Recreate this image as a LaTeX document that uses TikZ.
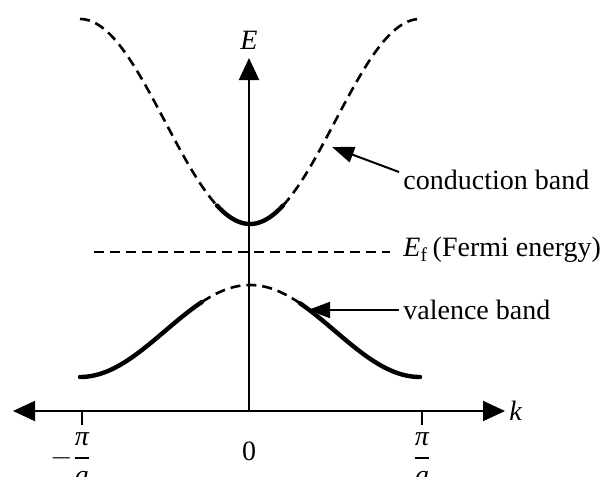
\documentclass[tikz,border=0pt]{standalone}
\usepackage{amsmath}
\usepackage{fontspec}
\setmainfont{Liberation Serif}
\usetikzlibrary{arrows.meta}

\begin{document}
\begin{tikzpicture}[x=0.5pt,y=-0.5pt,
  axis/.style={line width=1pt,draw=black},
  bigtip/.style={-{Triangle[length=11pt,width=10pt]}},
  band/.style={line width=2.2pt,line cap=round},
  gapband/.style={line width=1.3pt,dash pattern=on 5pt off 3pt},
  fermi/.style={line width=1pt,dash pattern=on 5pt off 3pt},
  lbl/.style={font=\fontsize{14}{16}\selectfont,inner sep=2pt},
  pointer/.style={line width=1pt,-{Triangle[length=11pt,width=8pt]}}]
  \useasboundingbox (0,0) rectangle (606,477);
  % axes
  \coordinate (origin) at (249,411);
  \coordinate (kback)  at ( 13,411);
  \coordinate (ktip)   at (505,411);
  \coordinate (etip)   at (249, 58);
  % conduction band: solid near the minimum, dashed further out
  \draw[gapband] plot[domain=-170:-33,samples=60] ({250+\x},{224-102.5*(1-cos(1.0588*\x))});
  \draw[gapband] plot[domain=33:170,samples=60] ({250+\x},{224-102.5*(1-cos(1.0588*\x))});
  \draw[band] plot[domain=-33:33,samples=30] ({250+\x},{224-102.5*(1-cos(1.0588*\x))});
  % valence band: dashed near the maximum, solid further out
  \draw[band] plot[domain=-170:-48,samples=60] ({250+\x},{285+46*(1-cos(1.0588*\x))});
  \draw[band] plot[domain=50:170,samples=60] ({250+\x},{285+46*(1-cos(1.0588*\x))});
  \draw[gapband] plot[domain=-48:50,samples=40] ({250+\x},{285+46*(1-cos(1.0588*\x))});
  % Fermi level
  \coordinate (fleft)  at ( 94,252);
  \coordinate (fright) at (390,252);
  \draw[fermi] (fleft) -- (fright);
  \draw[axis,{Triangle[length=11pt,width=10pt]}-{Triangle[length=11pt,width=10pt]}] (kback) -- (ktip);
  \draw[axis,bigtip] (origin) -- (etip);
  \foreach \t in {82,422}
    \draw[axis] (\t,411) -- (\t,425);
  \node[lbl,anchor=west] (klbl) at (ktip) {\textit{k}};
  \node[lbl] (elbl) at (249,40) {\textit{E}};
  \node[lbl] (mpi) at (82,459) {\llap{$-$}$\dfrac{\text{\itshape π}}{\text{\itshape a}}$};
  \node[lbl] (ppi) at (422,459) {$\dfrac{\text{\itshape π}}{\text{\itshape a}}$};
  \node[lbl] (zero) at (249,451) {0};
  % band labels
  \node[lbl,anchor=west] (cblbl) at (399,180) {conduction band};
  \node[lbl,anchor=west] (eflbl) at (399,250) {$\text{\itshape E}_{\text{f}}$\,(Fermi energy)};
  \node[lbl,anchor=west] (vblbl) at (399,310) {valence band};
  \coordinate (cbtip) at (332,147);
  \coordinate (vbtip) at (308,310);
  \draw[pointer] ([yshift=4pt]cblbl.west) -- (cbtip);
  \draw[pointer] (vblbl.west) -- (vbtip);
\end{tikzpicture}
\end{document}
